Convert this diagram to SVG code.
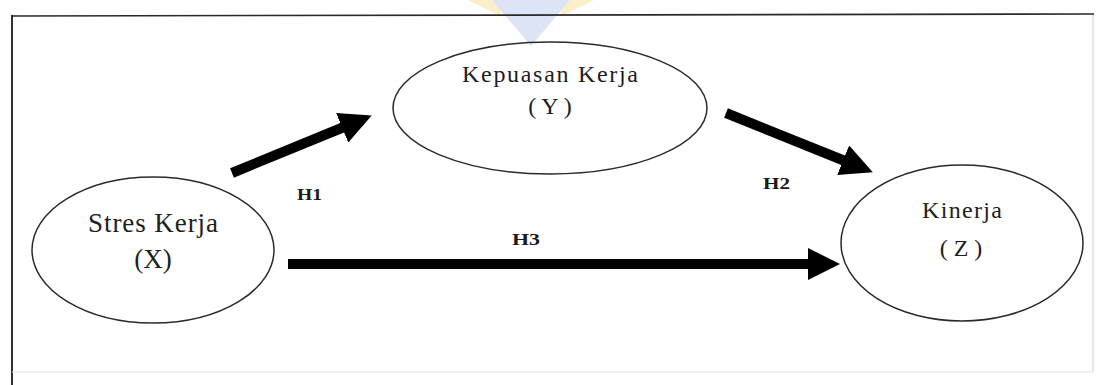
<svg xmlns="http://www.w3.org/2000/svg" width="1097" height="385" viewBox="0 0 1097 385">
<style>
.node ellipse{fill:none;stroke:#2a2a2a;stroke-width:1.5}
.lbl{font-family:"Liberation Serif","Times New Roman",serif;fill:#1e1e1e;text-anchor:middle}
.h{font-family:"Liberation Serif","Times New Roman",serif;font-weight:bold;fill:#1a1a1a;font-size:17px}
.conn line{stroke:#000;stroke-width:10;stroke-linecap:butt}
</style>
<defs>
<marker id="ah" viewBox="0 -16 32 32" markerWidth="32" markerHeight="32" markerUnits="userSpaceOnUse" refX="2" refY="0" orient="auto">
<path d="M0,-16 L32,0 L0,16 Z" fill="#000"/>
</marker>
</defs>
<rect width="1097" height="385" fill="#ffffff"/>
<g id="watermark" opacity="0.4">
<path d="M468,0 L506,0 L500,16 Z" fill="#f2dc7a"/>
<path d="M555,0 L594,0 L562,16 Z" fill="#f2dc7a"/>
<path d="M492,0 L570,0 L531,46 Z" fill="#a9bde8"/>
</g>
<g id="frame">
<line x1="12" y1="16" x2="1094" y2="14" stroke="#2a2a2a" stroke-width="1.6"/>
<line x1="12" y1="15" x2="12" y2="385" stroke="#1a1a1a" stroke-width="1.8"/>
<line x1="1093" y1="15" x2="1093" y2="372" stroke="#d8d8d8" stroke-width="1.2"/>
<line x1="12" y1="372" x2="1093" y2="372" stroke="#e2e2e2" stroke-width="1.2"/>
</g>
<g id="connectors" class="conn">
<line x1="232" y1="173" x2="344" y2="127" marker-end="url(#ah)"/>
<line x1="726" y1="113" x2="845" y2="161" marker-end="url(#ah)"/>
<line x1="288" y1="264" x2="810" y2="264" marker-end="url(#ah)"/>
</g>
<g id="node-x" class="node">
<ellipse cx="153" cy="250" rx="121" ry="73"/>
<text class="lbl" x="153" y="232" font-size="27" textLength="130" lengthAdjust="spacing">Stres Kerja</text>
<text class="lbl" x="153" y="268" font-size="27">(X)</text>
</g>
<g id="node-y" class="node">
<ellipse cx="550" cy="108" rx="157" ry="66"/>
<text class="lbl" x="550" y="82" font-size="24" textLength="176" lengthAdjust="spacing">Kepuasan Kerja</text>
<text class="lbl" x="550" y="114" font-size="24">( Y )</text>
</g>
<g id="node-z" class="node">
<ellipse cx="962" cy="243" rx="121" ry="78"/>
<text class="lbl" x="962" y="218" font-size="24" textLength="80" lengthAdjust="spacing">Kinerja</text>
<text class="lbl" x="961" y="256" font-size="24">( Z )</text>
</g>
<g id="labels">
<text class="h" x="297" y="200" textLength="25" lengthAdjust="spacingAndGlyphs">H1</text>
<text class="h" x="763" y="189" textLength="27" lengthAdjust="spacingAndGlyphs">H2</text>
<text class="h" x="512" y="245" textLength="28" lengthAdjust="spacingAndGlyphs">H3</text>
</g>
</svg>
